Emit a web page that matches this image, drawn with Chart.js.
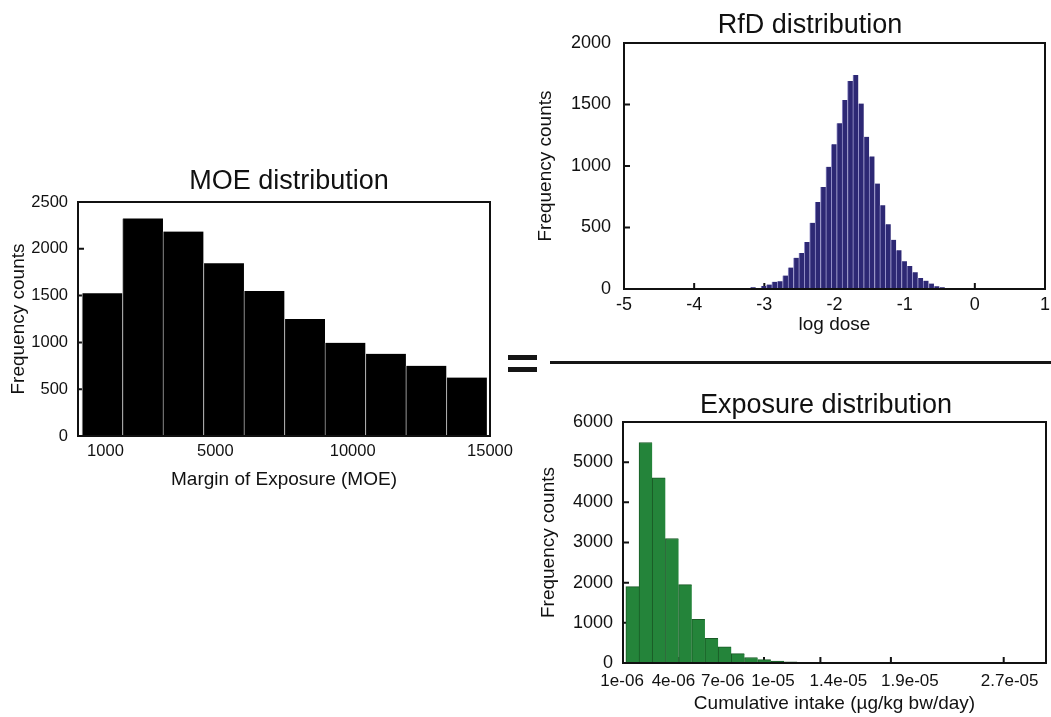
<!DOCTYPE html>
<html lang="en">
<head>
<meta charset="UTF-8">
<title>MOE = RfD / Exposure</title>
<script src="https://cdn.jsdelivr.net/npm/chart.js"></script>
<style>
  body { margin: 0; background: #fff; }
  .page { position: relative; width: 1051px; height: 717px; overflow: hidden; }
  canvas { position: absolute; }
  .bar { position: absolute; background: #151515; }
  .titulo { position: absolute; width: 400px; text-align: center; white-space: nowrap;
            font: 27px/27px 'Liberation Sans', Arial, sans-serif; color: #111; }
</style>
</head>
<body>
<div class="page">
  <canvas id="moeCanvas" width="520" height="360" style="left:0;top:150px"></canvas>
  <canvas id="rfdCanvas" width="521" height="345" style="left:530px;top:0"></canvas>
  <canvas id="expCanvas" width="521" height="337" style="left:530px;top:380px"></canvas>

  <div class="titulo" style="left:89px;top:167px">MOE distribution</div>
  <div class="titulo" style="left:610px;top:11px">RfD distribution</div>
  <div class="titulo" style="left:626px;top:391px">Exposure distribution</div>

  <!-- the "=" and the fraction line -->
  <div class="bar" style="left:508px;top:355px;width:29px;height:5px"></div>
  <div class="bar" style="left:508px;top:367px;width:29px;height:5px"></div>
  <div class="bar" style="left:550px;top:361px;width:501px;height:3px"></div>
</div>

<script>
// MOE histogram
const moeBins = [883, 2357, 3831, 5305, 6779, 8253, 9727, 11201, 12675, 14149];
const moeCounts = [1525, 2325, 2185, 1845, 1550, 1250, 995, 878, 750, 625];
const moeXTicks = [1000, 5000, 10000, 15000];

// RfD histogram (log dose)
const rfdBins = [-3.162, -3.085, -3.008, -2.931, -2.854, -2.777, -2.700, -2.623, -2.546, -2.469,
                 -2.392, -2.315, -2.238, -2.161, -2.084, -2.007, -1.930, -1.853, -1.776, -1.699,
                 -1.622, -1.545, -1.468, -1.391, -1.314, -1.237, -1.160, -1.083, -1.006, -0.929,
                 -0.852, -0.775, -0.698, -0.621, -0.544, -0.467, -0.390];
const rfdCounts = [15, 5, 24, 36, 58, 62, 110, 175, 254, 292,
                   382, 538, 708, 830, 994, 1176, 1348, 1536, 1692, 1740,
                   1508, 1238, 1078, 858, 680, 527, 400, 316, 226, 188,
                   136, 90, 68, 45, 22, 14, 8];
const rfdXTicks = [-5, -4, -3, -2, -1, 0, 1];

// Exposure histogram
const expBins = [0.67e-6, 1.605e-6, 2.54e-6, 3.475e-6, 4.41e-6, 5.345e-6, 6.28e-6, 7.215e-6,
                 8.15e-6, 9.085e-6, 10.02e-6, 10.955e-6, 11.89e-6, 12.825e-6, 13.76e-6];
const expCounts = [1900, 5490, 4610, 3100, 1950, 1090, 615, 405, 232, 137, 83, 50, 28, 15, 8];
const expXTicks = [1e-6, 4e-6, 7e-6, 1e-5, 1.4e-5, 1.9e-5, 2.7e-5];
const expXLabels = ['1e-06', '4e-06', '7e-06', '1e-05', '1.4e-05', '1.9e-05', '2.7e-05'];

// the original figure spreads these labels apart a bit (px, from the tick)
const expLabelNudge = [-15, -6, 1, 9, 18, 19, 6];

const FONT = "'Liberation Sans', Arial, sans-serif";
const INK = '#111';

// inner tick marks (under the bars) and the box frame (over them)
const frameTicks = {
    id: 'frameTicks',
    beforeDatasetsDraw(chart) {
        const { ctx, chartArea: a, scales } = chart;
        ctx.save();
        ctx.strokeStyle = INK;
        ctx.lineWidth = 2;
        ctx.beginPath();
        scales.x.ticks.forEach((t, i) => {
            const px = scales.x.getPixelForTick(i);
            ctx.moveTo(px, a.bottom);
            ctx.lineTo(px, a.bottom - 6);
        });
        scales.y.ticks.forEach((t, i) => {
            const py = scales.y.getPixelForTick(i);
            ctx.moveTo(a.left, py);
            ctx.lineTo(a.left + 6, py);
        });
        ctx.stroke();
        ctx.restore();
    },
    afterDatasetsDraw(chart) {
        const { ctx, chartArea: a } = chart;
        ctx.save();
        ctx.strokeStyle = INK;
        ctx.lineWidth = 2;
        ctx.strokeRect(a.left, a.top, a.right - a.left, a.bottom - a.top);
        ctx.restore();
    }
};

// shifts x tick labels sideways, keeps the tick marks where they are
function labelNudge(offsets) {
    return {
        id: 'labelNudge',
        beforeDraw(chart) {
            const s = chart.scales.x;
            s.getLabelItems(chart.chartArea).forEach((it, i) => {
                it.options.translation[0] = s.getPixelForTick(i) + (offsets[i] || 0);
            });
        }
    };
}

function fixedTicks(values) {
    return scale => { scale.ticks = values.map(v => ({ value: v })); };
}

function desenharHistograma(id, cfg) {
    const data = cfg.bins.map((x, i) => ({ x: x, y: cfg.counts[i] }));
    const extras = [frameTicks];
    if (cfg.nudge) extras.push(labelNudge(cfg.nudge));

    return new Chart(document.getElementById(id), {
        type: 'bar',
        data: {
            datasets: [{
                data: data,
                backgroundColor: cfg.fill,
                borderColor: cfg.border,
                borderWidth: cfg.borderWidth,
                borderSkipped: false,
                barPercentage: 1,
                categoryPercentage: 1
            }]
        },
        options: {
            responsive: false,
            animation: false,
            devicePixelRatio: 1,
            layout: { padding: { left: 0, top: cfg.padTop, right: cfg.padRight, bottom: 0 } },
            plugins: {
                legend: { display: false },
                tooltip: { enabled: false },
                title: { display: false }
            },
            scales: {
                x: {
                    type: 'linear',
                    offset: false,
                    min: cfg.xMin,
                    max: cfg.xMax,
                    afterBuildTicks: fixedTicks(cfg.xTicks),
                    afterFit: s => { s.height = cfg.xHeight; s.paddingLeft = 0; s.paddingRight = 0; },
                    grid: { display: false, drawTicks: false, offset: false },
                    border: { display: false },
                    ticks: {
                        color: INK,
                        font: { family: FONT, size: cfg.xTickSize },
                        padding: cfg.xTickPad,
                        maxRotation: 0,
                        autoSkip: false,
                        callback: cfg.xLabel
                    },
                    title: {
                        display: true,
                        text: cfg.xTitle,
                        color: INK,
                        font: { family: FONT, size: 19 },
                        padding: { top: 0, bottom: cfg.xTitlePad }
                    }
                },
                y: {
                    min: 0,
                    max: cfg.yMax,
                    ticks: {
                        stepSize: cfg.yStep,
                        color: INK,
                        font: { family: FONT, size: cfg.yTickSize },
                        padding: cfg.yTickPad,
                        callback: v => String(v)
                    },
                    afterFit: s => { s.width = cfg.yWidth; s.paddingTop = 0; s.paddingBottom = 0; },
                    grid: { display: false, drawTicks: false },
                    border: { display: false },
                    title: {
                        display: true,
                        text: 'Frequency counts',
                        color: INK,
                        font: { family: FONT, size: 19 },
                        padding: { top: cfg.yTitlePad, bottom: 0 }
                    }
                }
            }
        },
        plugins: extras
    });
}

desenharHistograma('moeCanvas', {
    padTop: 52,
    bins: moeBins, counts: moeCounts,
    fill: '#000000', border: '#a8a8a8', borderWidth: { left: 1, right: 0, top: 0, bottom: 0 },
    xMin: 0, xMax: 15000, xTicks: moeXTicks,
    xLabel: v => String(v),
    xTitle: 'Margin of Exposure (MOE)',
    xHeight: 74, xTickSize: 16.5, xTickPad: 5.6, xTitlePad: 18.6,
    yMax: 2500, yStep: 500, yWidth: 78, yTickSize: 16.5, yTickPad: 10, yTitlePad: 7.6,
    padRight: 30
});

desenharHistograma('rfdCanvas', {
    padTop: 43,
    bins: rfdBins, counts: rfdCounts,
    fill: '#2d2874', border: '#9490c8', borderWidth: { left: 1, right: 0, top: 0, bottom: 0 },
    xMin: -5, xMax: 1, xTicks: rfdXTicks,
    xLabel: v => String(v),
    xTitle: 'log dose',
    xHeight: 56, xTickSize: 18, xTickPad: 5.2, xTitlePad: 8.6,
    yMax: 2000, yStep: 500, yWidth: 94, yTickSize: 18, yTickPad: 13, yTitlePad: 4.1,
    padRight: 6
});

desenharHistograma('expCanvas', {
    padTop: 42,
    bins: expBins, counts: expCounts,
    fill: '#24843a', border: '#195a26', borderWidth: { left: 1, right: 0, top: 1, bottom: 0 },
    xMin: 0, xMax: 3e-5, xTicks: expXTicks,
    xLabel: (v, i) => expXLabels[i],
    nudge: expLabelNudge,
    xTitle: 'Cumulative intake (\u00b5g/kg bw/day)',
    xHeight: 54, xTickSize: 17, xTickPad: 7.8, xTitlePad: 1.6,
    yMax: 6000, yStep: 1000, yWidth: 93, yTickSize: 18, yTickPad: 10, yTitlePad: 7.1,
    padRight: 5
});
</script>
</body>
</html>
